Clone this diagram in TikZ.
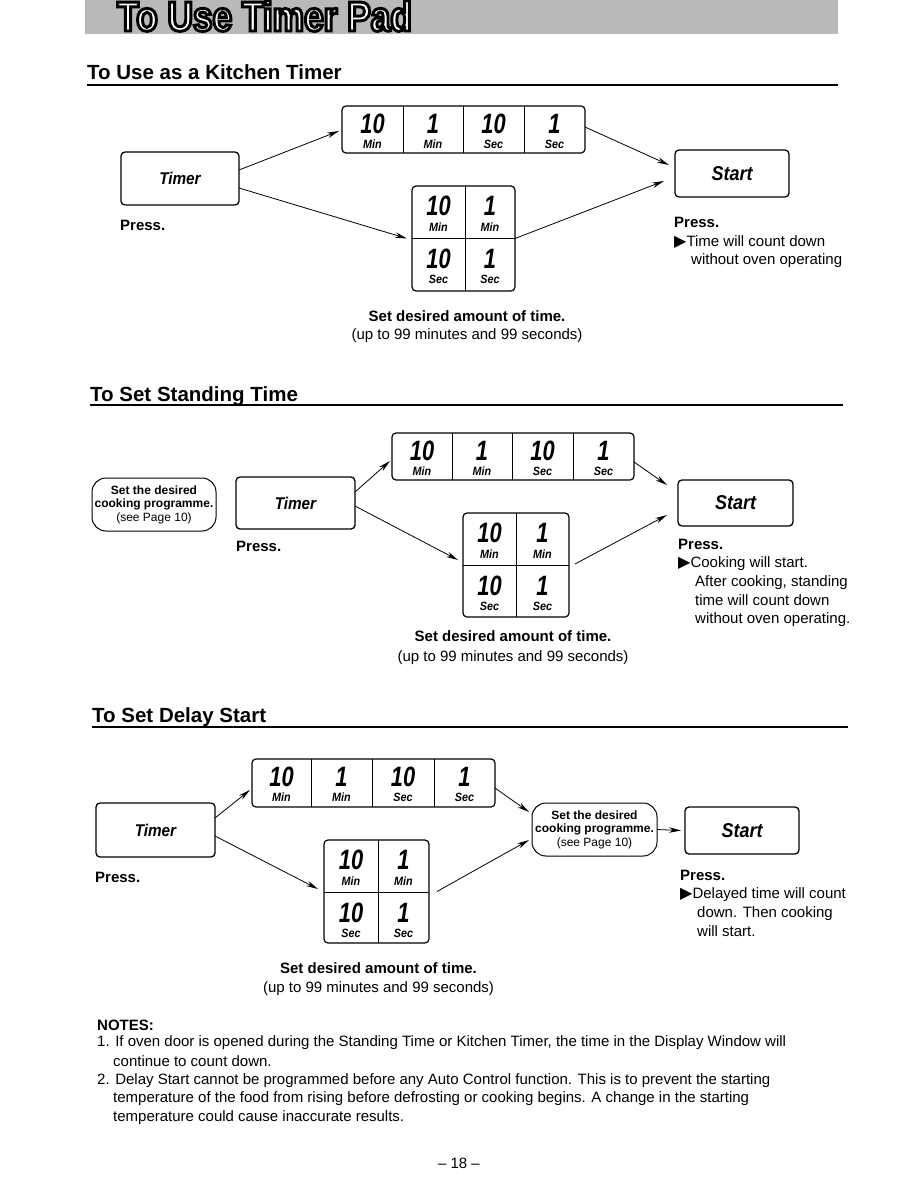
\documentclass[tikz,border=0pt]{standalone}
\usepackage{fontspec}
\setmainfont{Liberation Sans}
\newfontfamily\condfont[FakeStretch=0.78]{Liberation Sans}
\newfontfamily\semcond[FakeStretch=0.9]{Liberation Sans}
\newfontfamily\titlefont[FakeStretch=0.84,FakeBold=7]{Liberation Sans}
\newfontfamily\symfont{DejaVu Sans}
\usetikzlibrary{arrows.meta}
\tikzset{
 btn/.style={draw, line width=1.3pt, rounded corners=4pt, inner sep=0pt, outer sep=0pt, font=\semcond\bfseries\itshape\fontsize{17}{17}\selectfont},
 startbtn/.style={btn, font=\semcond\bfseries\itshape\fontsize{20}{20}\selectfont},
 keybox/.style={draw, line width=1.2pt, rounded corners=4pt, inner sep=0pt, outer sep=0pt},
 divline/.style={line width=1pt},
 oval/.style={draw, line width=1pt, rounded corners=14pt, inner sep=0pt, outer sep=0pt, align=center, font=\fontsize{12}{13.5}\selectfont},
 arr/.style={-{Stealth[length=12pt,width=5.5pt]}, line width=0.8pt},
 numst/.style={anchor=base, inner sep=0pt, font=\condfont\bfseries\itshape\fontsize{28}{28}\selectfont},
 unitst/.style={anchor=base, inner sep=0pt, font=\semcond\bfseries\itshape\fontsize{12}{12}\selectfont},
 txt/.style={anchor=base west, inner sep=0pt, font=\fontsize{15}{18}\selectfont},
 btxt/.style={anchor=base west, inner sep=0pt, font=\bfseries\fontsize{15}{18}\selectfont},
 headst/.style={anchor=base west, inner sep=0pt, font=\bfseries\fontsize{20.5}{24}\selectfont},
 ctr/.style={anchor=base, inner sep=0pt, font=\fontsize{15}{18}\selectfont},
 bctr/.style={anchor=base, inner sep=0pt, font=\bfseries\fontsize{15}{18}\selectfont},
 titlest/.style={anchor=base west, inner sep=0pt, font=\titlefont\bfseries\fontsize{42}{44}\selectfont},
 rule/.style={line width=1.3pt},
}
\newcommand\kcell[7]{%
 \node[numst] (#1n) at (#2,#3+#4) {#6};
 \node[unitst] (#1u) at (#2,#3+#5) {#7};}
\newcommand\tri{{\symfont\fontsize{16}{16}\selectfont ▶}}
\begin{document}
\begin{tikzpicture}[x=1pt,y=-1pt]
\fill[white] (0,0) rectangle (918,1188);
\useasboundingbox (0,0) rectangle (918,1188);
% header
\fill[gray!55] (85,0) rectangle (838,34);
\node[titlest, text=white] (htitle) at (117,31) {\special{pdf:literal direct 0 G}To Use Timer Pad};

% ---------- Section 1 ----------
\node[headst] (h1) at (87,80) {To Use as a Kitchen Timer};
\draw[rule] (87,85) -- (838,85);
\node[btn, minimum width=118pt, minimum height=53pt] (timer1) at (180,178.5) {Timer};
\node[btxt] (p1) at (120,230) {Press.};
\node[keybox, minimum width=243pt, minimum height=47pt] (strip1) at (463.5,129.5) {};
\draw[divline] (403,106) -- (403,153) (463,106) -- (463,153) (524,106) -- (524,153);
\kcell{a1}{372.5}{106}{27}{42}{10}{Min}
\kcell{a2}{433}{106}{27}{42}{1}{Min}
\kcell{a3}{493.5}{106}{27}{42}{10}{Sec}
\kcell{a4}{554.5}{106}{27}{42}{1}{Sec}
\node[keybox, minimum width=103pt, minimum height=105pt] (sq1) at (463.5,238.5) {};
\draw[divline] (465,186) -- (465,291) (412,238) -- (515,238);
\kcell{b1}{438.5}{186}{29}{45}{10}{Min}
\kcell{b2}{490}{186}{29}{45}{1}{Min}
\kcell{b3}{438.5}{238}{30}{45}{10}{Sec}
\kcell{b4}{490}{238}{30}{45}{1}{Sec}
\node[startbtn, minimum width=114pt, minimum height=47pt] (start1) at (732,173.5) {Start};
\draw[arr] ([yshift=8.5pt]timer1.east) -- ([xshift=-3pt,yshift=-1.5pt]strip1.west);
\draw[arr] ([yshift=-9.5pt]timer1.east) -- ([xshift=-5pt]sq1.west);
\draw[arr] ([yshift=2.5pt]strip1.east) -- ([xshift=-6pt,yshift=8.5pt]start1.west);
\draw[arr] (sq1.east) -- ([xshift=-11pt,yshift=-7.5pt]start1.west);
\node[btxt] (r1a) at (674,227) {Press.};
\node[txt] (r1b) at (674,246) {\tri Time will count down};
\node[txt] (r1c) at (691,264) {without oven operating};
\node[bctr] (c1a) at (467,321) {Set desired amount of time.};
\node[ctr] (c1b) at (467,339) {(up to 99 minutes and 99 seconds)};

% ---------- Section 2 ----------
\node[headst] (h2) at (90,401) {To Set Standing Time};
\draw[rule] (90,405) -- (843,405);
\node[oval, minimum width=124pt, minimum height=53pt] (oval2) at (154,504.5) {\textbf{Set the desired}\\\textbf{cooking programme.}\\(see Page 10)};
\node[btn, minimum width=119pt, minimum height=52pt] (timer2) at (295.5,503) {Timer};
\node[btxt] (p2) at (236,551) {Press.};
\node[keybox, minimum width=242pt, minimum height=47pt] (strip2) at (513,456.5) {};
\draw[divline] (452,433) -- (452,480) (512,433) -- (512,480) (573,433) -- (573,480);
\kcell{c1}{422}{433}{27}{42}{10}{Min}
\kcell{c2}{482}{433}{27}{42}{1}{Min}
\kcell{c3}{542.5}{433}{27}{42}{10}{Sec}
\kcell{c4}{603.5}{433}{27}{42}{1}{Sec}
\node[keybox, minimum width=106pt, minimum height=104pt] (sq2) at (516,565) {};
\draw[divline] (516,513) -- (516,617) (463,565) -- (569,565);
\kcell{d1}{489.5}{513}{29}{45}{10}{Min}
\kcell{d2}{542.5}{513}{29}{45}{1}{Min}
\kcell{d3}{489.5}{565}{30}{45}{10}{Sec}
\kcell{d4}{542.5}{565}{30}{45}{1}{Sec}
\node[startbtn, minimum width=115pt, minimum height=46pt] (start2) at (735.5,503) {Start};
\draw[arr] ([yshift=11pt]timer2.east) -- ([xshift=-2pt,yshift=-4.5pt]strip2.west);
\draw[arr] ([yshift=-3pt]timer2.east) -- ([xshift=-5pt,yshift=5pt]sq2.west);
\draw[arr] ([yshift=-5.5pt]strip2.east) -- ([xshift=-11pt,yshift=18pt]start2.west);
\draw[arr] ([xshift=6pt,yshift=1pt]sq2.east) -- ([xshift=-11pt,yshift=-12pt]start2.west);
\node[btxt] (r2a) at (678,549) {Press.};
\node[txt] (r2b) at (678,567) {\tri Cooking will start.};
\node[txt] (r2c) at (695,586) {After cooking, standing};
\node[txt] (r2d) at (695,605) {time will count down};
\node[txt] (r2e) at (695,623) {without oven operating.};
\node[bctr] (c2a) at (513,641) {Set desired amount of time.};
\node[ctr] (c2b) at (513,661) {(up to 99 minutes and 99 seconds)};

% ---------- Section 3 ----------
\node[headst] (h3) at (92,722) {To Set Delay Start};
\draw[rule] (92,727) -- (848,727);
\node[btn, minimum width=119pt, minimum height=54pt] (timer3) at (155.5,830) {Timer};
\node[btxt] (p3) at (95,882) {Press.};
\node[keybox, minimum width=243pt, minimum height=48pt] (strip3) at (373.5,783) {};
\draw[divline] (311,759) -- (311,807) (372,759) -- (372,807) (434,759) -- (434,807);
\kcell{e1}{281.5}{759}{27}{42}{10}{Min}
\kcell{e2}{341.5}{759}{27}{42}{1}{Min}
\kcell{e3}{403}{759}{27}{42}{10}{Sec}
\kcell{e4}{464.5}{759}{27}{42}{1}{Sec}
\node[keybox, minimum width=105pt, minimum height=103pt] (sq3) at (376.5,891.5) {};
\draw[divline] (378,840) -- (378,943) (324,892) -- (429,892);
\kcell{f1}{351}{840}{29}{45}{10}{Min}
\kcell{f2}{403.5}{840}{29}{45}{1}{Min}
\kcell{f3}{351}{892}{30}{45}{10}{Sec}
\kcell{f4}{403.5}{892}{30}{45}{1}{Sec}
\node[oval, minimum width=125pt, minimum height=53pt] (oval3) at (594.5,829.5) {\textbf{Set the desired}\\\textbf{cooking programme.}\\(see Page 10)};
\node[startbtn, minimum width=114pt, minimum height=47pt] (start3) at (742,830.5) {Start};
\draw[arr] ([yshift=12pt]timer3.east) -- ([xshift=-2pt,yshift=-7pt]strip3.west);
\draw[arr] ([yshift=-6pt]timer3.east) -- ([xshift=-6pt,yshift=2.5pt]sq3.west);
\draw[arr] ([yshift=-5pt]strip3.east) -- ([xshift=-3pt,yshift=17.5pt]oval3.west);
\draw[arr] ([xshift=8pt]sq3.east) -- ([xshift=-3pt,yshift=-10.5pt]oval3.west);
\draw[arr] (oval3.east) -- ([xshift=-4pt]start3.west);
\node[btxt] (r3a) at (680,880) {Press.};
\node[txt] (r3b) at (680,898) {\tri Delayed time will count};
\node[txt] (r3c) at (697,917) {down. Then cooking};
\node[txt] (r3d) at (697,936) {will start.};
\node[bctr] (c3a) at (378.5,973) {Set desired amount of time.};
\node[ctr] (c3b) at (378.5,992) {(up to 99 minutes and 99 seconds)};

% ---------- Notes ----------
\node[btxt] (n0) at (97,1030) {NOTES:};
\node[txt] (n1a) at (97,1046) {1. If oven door is opened during the Standing Time or Kitchen Timer, the time in the Display Window will};
\node[txt] (n1b) at (113,1066) {continue to count down.};
\node[txt] (n2a) at (97,1084) {2. Delay Start cannot be programmed before any Auto Control function. This is to prevent the starting};
\node[txt] (n2b) at (113,1102) {temperature of the food from rising before defrosting or cooking begins. A change in the starting};
\node[txt] (n2c) at (113,1121) {temperature could cause inaccurate results.};
\node[ctr] (pg) at (459,1168) {– 18 –};
\end{tikzpicture}
\end{document}
